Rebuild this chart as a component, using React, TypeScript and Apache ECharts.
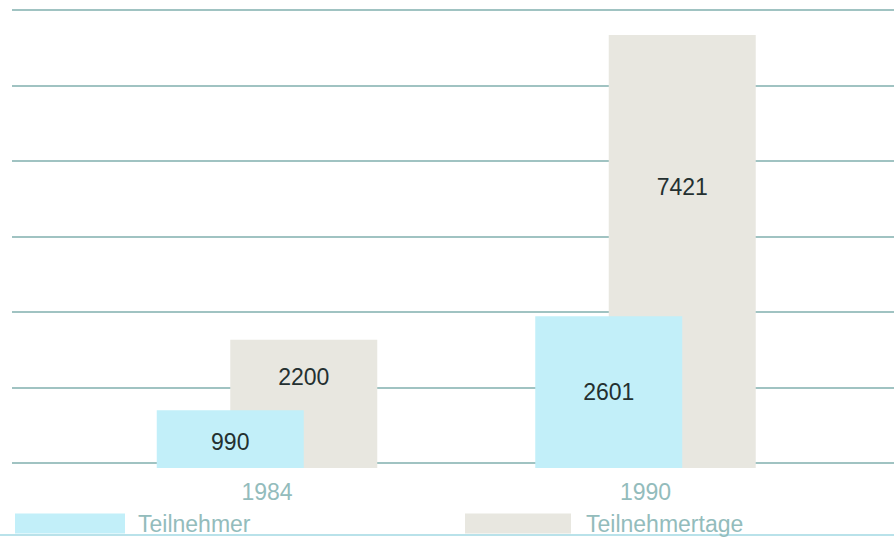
import React, { useEffect, useRef } from "react";
import * as echarts from "echarts";

// ---- data ----
const categories = ["1984", "1990"];
const seriesNames = ["Teilnehmer", "Teilnehmertage"];
const teilnehmer = [990, 2601];
const teilnehmertage = [2200, 7421];

// ---- styling helpers (label vertical placement within each bar) ----
const labelPosTeilnehmer = ["55%", "50%"];
const labelPosTage = ["29%", "35%"];

const GRID_MAX = 7860;
const GRID_STEP = 1310;
const BAR_MAX = 7850;

export default function App() {
  const ref = useRef<HTMLDivElement>(null);

  useEffect(() => {
    if (!ref.current) return;
    const chart = echarts.init(ref.current, undefined, { renderer: "svg" });
    const font = "'Liberation Sans', Arial, Helvetica, sans-serif";
    const numLabel = {
      show: true,
      color: "#243030",
      fontSize: 23,
      fontFamily: font,
      align: "center",
      verticalAlign: "middle",
    };
    const lightText = { color: "#93bcbc", fontSize: 23, fontFamily: font };
    chart.setOption({
      animation: false,
      backgroundColor: "#ffffff",
      textStyle: { fontFamily: font },
      grid: [
        { left: 12, right: 0, top: 10, height: 453 },
        { left: 77.75, right: 59.25, top: 10, height: 458 },
      ],
      xAxis: [
        { type: "value", gridIndex: 0, show: false },
        {
          type: "category",
          gridIndex: 1,
          data: categories,
          axisLine: { show: false },
          axisTick: { show: false },
          axisLabel: { ...lightText, margin: 12 },
        },
      ],
      yAxis: [
        {
          type: "value",
          gridIndex: 0,
          min: 0,
          max: GRID_MAX,
          interval: GRID_STEP,
          axisLabel: { show: false },
          axisLine: { show: false },
          axisTick: { show: false },
          splitLine: { show: true, lineStyle: { color: "#a0c3c2", width: 2 } },
        },
        {
          type: "value",
          gridIndex: 1,
          min: 0,
          max: BAR_MAX,
          show: false,
          splitLine: { show: false },
        },
      ],
      legend: [
        {
          data: [seriesNames[0]],
          left: 10,
          top: 507,
          icon: "rect",
          itemWidth: 110,
          itemHeight: 20,
          textStyle: { ...lightText, padding: [0, 0, 0, 8] },
        },
        {
          data: [seriesNames[1]],
          left: 460,
          top: 507,
          icon: "rect",
          itemWidth: 106,
          itemHeight: 20,
          textStyle: { ...lightText, padding: [0, 0, 0, 10] },
        },
      ],
      graphic: [
        {
          type: "line",
          shape: { x1: 0, y1: 535, x2: 894, y2: 535 },
          style: { stroke: "#b9e2ea", lineWidth: 2 },
        },
      ],
      series: [
        {
          name: seriesNames[0],
          type: "bar",
          xAxisIndex: 1,
          yAxisIndex: 1,
          barWidth: 147,
          barGap: "-50%",
          z: 3,
          itemStyle: { color: "#c2eff9" },
          label: numLabel,
          data: teilnehmer.map((v, i) => ({
            value: v,
            label: { position: ["50%", labelPosTeilnehmer[i]] },
          })),
        },
        {
          name: seriesNames[1],
          type: "bar",
          xAxisIndex: 1,
          yAxisIndex: 1,
          barWidth: 147,
          barGap: "-50%",
          z: 2,
          itemStyle: { color: "#e8e7e0" },
          label: numLabel,
          data: teilnehmertage.map((v, i) => ({
            value: v,
            label: { position: ["50%", labelPosTage[i]] },
          })),
        },
      ],
    });
    return () => chart.dispose();
  }, []);

  return (
    <div
      ref={ref}
      style={{ position: "fixed", left: 0, top: 0, width: 894, height: 537 }}
    />
  );
}
